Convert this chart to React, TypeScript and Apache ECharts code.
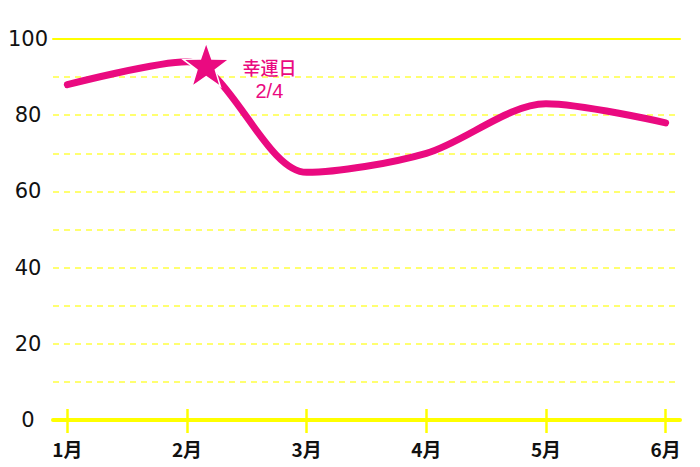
import React, { useEffect, useRef } from "react";
import * as echarts from "echarts";

const months = ["1月", "2月", "3月", "4月", "5月", "6月"];
const monthPos = [1, 2, 3, 4, 5, 6];
const values = [88, 94, 65, 70, 83, 78];
const yTicks = [0, 20, 40, 60, 80, 100];
const luckyDay = { label: "幸運日", date: "2/4", x: 2.16, y: 93.3 };

const PINK = "#EA0A80";
const YELLOW = "#FFFF00";
const STAR =
  "path://M0,-10 L2.35,-3.24 L9.51,-3.09 L3.8,1.24 L5.88,8.09 L0,4 L-5.88,8.09 L-3.8,1.24 L-9.51,-3.09 L-2.35,-3.24 Z";

export default function App() {
  const ref = useRef<HTMLDivElement>(null);
  useEffect(() => {
    document.body.style.margin = "0";
    const chart = echarts.init(ref.current!, null, { renderer: "svg" });
    const xCommon = {
      type: "value" as const,
      min: 0.88,
      max: 6.12,
      splitLine: { show: false },
    };
    chart.setOption({
      animation: false,
      backgroundColor: "#fff",
      grid: { left: 53, right: 20, top: 39, bottom: 47, outerBoundsMode: "none" },
      xAxis: [
        {
          ...xCommon,
          position: "bottom",
          axisLine: { show: true, onZero: false, lineStyle: { color: YELLOW, width: 4 } },
          axisTick: {
            show: true,
            customValues: monthPos,
            length: 13,
            lineStyle: { color: YELLOW, width: 2.5 },
          },
          axisLabel: {
            show: true,
            customValues: monthPos,
            formatter: (v: number) => months[monthPos.indexOf(Math.round(v))] ?? "",
            margin: 19,
            fontFamily: "Noto Sans CJK JP",
            fontWeight: "bold",
            fontSize: 19,
            color: "#111",
          },
        },
        {
          ...xCommon,
          position: "bottom",
          axisLine: { show: false, onZero: false },
          axisTick: {
            show: true,
            inside: true,
            customValues: monthPos,
            length: 11,
            lineStyle: { color: YELLOW, width: 2.5 },
          },
          axisLabel: { show: false },
        },
        {
          ...xCommon,
          position: "top",
          axisLine: { show: true, onZero: false, lineStyle: { color: YELLOW, width: 2 } },
          axisTick: { show: false },
          axisLabel: { show: false },
        },
      ],
      yAxis: {
        type: "value",
        min: 0,
        max: 100,
        interval: 10,
        axisLine: { show: false },
        axisTick: { show: false },
        axisLabel: {
          formatter: (v: number) => (yTicks.includes(v) ? String(v) : ""),
          align: "center",
          margin: 25,
          fontFamily: "DejaVu Sans",
          fontSize: 21,
          color: "#111",
        },
        splitLine: {
          show: true,
          lineStyle: { color: "#FFFF70", width: 2, type: [6, 5] },
        },
      },
      series: [
        {
          type: "line",
          xAxisIndex: 0,
          smooth: 0.3,
          symbol: "none",
          data: monthPos.map((m, i) => [m, values[i]]),
          lineStyle: { color: PINK, width: 7, cap: "round" },
          markPoint: {
            symbol: STAR,
            symbolSize: [46, 44],
            itemStyle: { color: PINK, borderColor: "#fff", borderWidth: 1.5 },
            data: [
              {
                coord: [luckyDay.x, luckyDay.y],
                value: luckyDay.date,
                label: {
                  show: true,
                  formatter: "{a|" + luckyDay.label + "}\n{b|" + luckyDay.date + "}",
                  position: [87, 37],
                  align: "center",
                  verticalAlign: "middle",
                  color: PINK,
                  rich: {
                    a: {
                      fontFamily: "Noto Sans CJK JP",
                      fontWeight: 500,
                      fontSize: 18,
                      lineHeight: 24,
                      color: PINK,
                      align: "center",
                    },
                    b: {
                      fontFamily: "Liberation Sans",
                      fontSize: 20,
                      lineHeight: 24,
                      color: PINK,
                      align: "center",
                    },
                  },
                },
              },
            ],
          },
        },
      ],
    });
    return () => chart.dispose();
  }, []);
  return <div ref={ref} style={{ width: 700, height: 467 }} />;
}
